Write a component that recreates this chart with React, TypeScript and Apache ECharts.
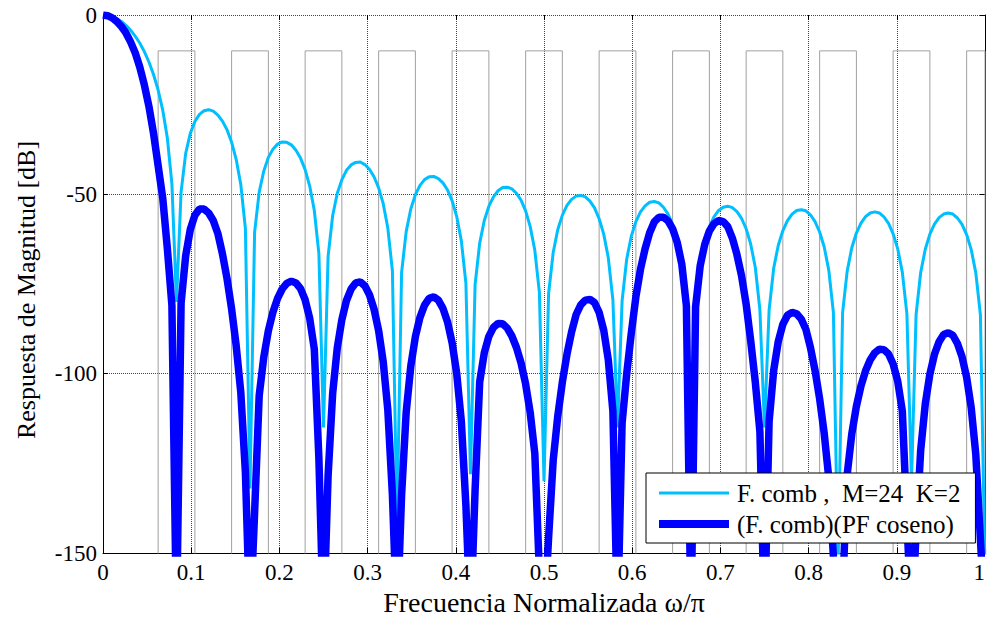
import React, { useEffect, useRef } from "react";
import * as echarts from "echarts";

// Frequency grid: samples over omega/pi in [0, 1]
const SAMPLES = 192;

// F. comb, M=24 K=2  (dB), one value per frequency sample
const combDb = [
  0, -0.1, -0.5, -1.0, -1.8, -2.9, -4.2, -5.9, -7.8, -10.2, -13.1, -16.6, -20.9, -26.5, -34.2, -47.1,
  -80,
  -49.3, -38.6, -33.0, -29.7, -27.7, -26.7, -26.4, -26.8, -27.9, -29.6, -32.0, -35.5, -40.3, -47.3, -59.6,
  -132,
  -60.6, -49.4, -43.5, -39.7, -37.4, -36.0, -35.4, -35.5, -36.2, -37.7, -39.9, -43.1, -47.7, -54.5, -66.6,
  -115,
  -67.3, -55.9, -49.7, -45.9, -43.3, -41.8, -41.1, -41.0, -41.7, -43.0, -45.1, -48.2, -52.6, -59.4, -71.3,
  -142,
  -71.8, -60.4, -54.1, -50.1, -47.5, -45.9, -45.1, -45.0, -45.6, -46.8, -48.8, -51.8, -56.2, -62.9, -74.8,
  -128,
  -75.2, -63.6, -57.3, -53.3, -50.7, -49.0, -48.1, -48.0, -48.5, -49.7, -51.6, -54.6, -59.0, -65.6, -77.4,
  -130,
  -77.7, -66.2, -59.8, -55.8, -53.1, -51.4, -50.5, -50.3, -50.7, -51.9, -53.8, -56.8, -61.1, -67.7, -79.5,
  -115,
  -79.7, -68.1, -61.7, -57.6, -54.9, -53.2, -52.2, -52.0, -52.4, -53.6, -55.5, -58.4, -62.7, -69.2, -81.0,
  -120,
  -81.2, -69.6, -63.2, -59.0, -56.3, -54.5, -53.6, -53.3, -53.7, -54.8, -56.7, -59.6, -63.9, -70.4, -82.2,
  -115,
  -82.3, -70.6, -64.2, -60.1, -57.3, -55.5, -54.5, -54.3, -54.6, -55.7, -57.6, -60.5, -64.7, -71.2, -83.0,
  -155,
  -83.0, -71.4, -64.9, -60.8, -58.0, -56.2, -55.2, -54.9, -55.2, -56.3, -58.1, -61.0, -65.2, -71.7, -83.4,
  -130,
  -83.5, -71.8, -65.3, -61.1, -58.3, -56.5, -55.5, -55.2, -55.5, -56.6, -58.4, -61.2, -65.4, -71.9, -83.6,
  -155,
];

// (F. comb)(PF coseno)  (dB), one value per frequency sample
const combCosDb = [
  0, -0.2, -0.8, -1.8, -3.2, -5.0, -7.5, -10.5, -14.5, -19.5, -25.5, -33, -42, -51, -65, -81,
  -170,
  -80.3, -67.1, -59.8, -55.8, -54.1, -54.1, -55.2, -57.3, -60.9, -66.6, -73.5, -82.0, -92.3, -105.3, -127.6,
  -170,
  -138.8, -106.1, -95.4, -88.0, -82.8, -79.0, -76.4, -74.8, -74.2, -74.7, -76.3, -79.4, -84.6, -93.2, -123.8,
  -170,
  -128.4, -105.4, -92.8, -84.9, -79.6, -76.4, -74.7, -74.4, -75.5, -78.0, -82.0, -88.0, -96.7, -110.1, -133.8,
  -170,
  -133.8, -110.7, -97.9, -89.7, -84.3, -80.9, -79.0, -78.6, -79.5, -81.8, -85.6, -91.4, -100.0, -113.2, -136.8,
  -170,
  -132.4, -102.3, -94.2, -89.6, -87.1, -86.0, -86.1, -87.3, -89.5, -92.7, -97.0, -102.9, -110.9, -122.3, -155.6,
  -170,
  -145.7, -124.2, -111.8, -102.3, -94.6, -88.4, -83.5, -80.8, -79.5, -79.3, -80.2, -82.9, -87.9, -96.2, -110.5,
  -170,
  -113.7, -100.1, -88.7, -78.6, -70.9, -65.2, -60.7, -57.7, -56.4, -56.4, -57.4, -59.6, -63.4, -69.5, -81.1,
  -170,
  -81.3, -69.9, -63.9, -60.2, -58.2, -57.3, -57.6, -59.0, -62.2, -66.8, -72.7, -80.6, -90.9, -102.4, -116.2,
  -170,
  -113.3, -99.1, -91.0, -86.2, -83.7, -82.9, -83.3, -84.8, -87.6, -92.7, -99.1, -107.0, -116.7, -129.2, -151.0,
  -170,
  -161.2, -128.1, -116.8, -109.1, -103.4, -99.2, -96.2, -94.2, -93.2, -93.3, -94.5, -97.3, -102.1, -110.4, -140.6,
  -170,
  -144.6, -121.3, -108.4, -100.1, -94.6, -91.1, -89.1, -88.6, -89.3, -91.6, -95.3, -101.0, -109.5, -122.6, -146.1,
  -170,
];

// Stop-band mask: level and band edges (omega/pi)
const maskLevelDb = -10;
const maskFloorDb = -200;
const maskBands = [
  [0.0625, 0.1042], [0.1458, 0.1875], [0.2292, 0.2708], [0.3125, 0.3542],
  [0.3958, 0.4375], [0.4792, 0.5208], [0.5625, 0.6042], [0.6458, 0.6875],
  [0.7292, 0.7708], [0.8125, 0.8542], [0.8958, 0.9375], [0.9792, 1.0],
];

const seriesNames = ["F. comb ,  M=24  K=2", "(F. comb)(PF coseno)"];
const xAxisTitle = "Frecuencia Normalizada ω/π";
const yAxisTitle = "Respuesta de Magnitud [dB]";

const FONT = "'Liberation Serif', 'Times New Roman', serif";
const CYAN = "#00bfff";
const BLUE = "#0000ff";

export default function App() {
  const ref = useRef<HTMLDivElement>(null);

  useEffect(() => {
    if (!ref.current) return;
    const chart = echarts.init(ref.current, null, { renderer: "svg" });

    const combData = combDb.map((v, i) => [i / SAMPLES, v]);
    const combCosData = combCosDb.map((v, i) => [i / SAMPLES, v]);
    const maskData: number[][] = [];
    maskBands.forEach(([lo, hi]) => {
      maskData.push([lo, maskFloorDb], [lo, maskLevelDb], [hi, maskLevelDb], [hi, maskFloorDb]);
    });

    const tickStyle = { show: true, inside: true, length: 5, lineStyle: { color: "#000", width: 1 } };

    chart.setOption({
      animation: false,
      backgroundColor: "#fff",
      textStyle: { fontFamily: FONT },
      grid: { left: 103, right: 4, top: 15, bottom: 64, containLabel: false, outerBoundsMode: "none" },
      legend: {
        data: [
          { name: seriesNames[0], icon: "path://M0,0H70V3H0Z", itemStyle: { color: CYAN, borderWidth: 0 } },
          { name: seriesNames[1], icon: "path://M0,0H70V8H0Z", itemStyle: { color: BLUE, borderWidth: 0 } },
        ],
        orient: "vertical",
        left: 646,
        top: 473,
        itemWidth: 70,
        itemHeight: 14,
        itemGap: 5,
        padding: [7, 15, 6, 13],
        backgroundColor: "#fff",
        borderColor: "#000",
        borderWidth: 1,
        borderRadius: 0,
        selectedMode: false,
        lineStyle: { width: 0 },
        itemStyle: { borderWidth: 0 },
        textStyle: { fontFamily: FONT, fontSize: 25, color: "#000", lineHeight: 26, padding: [0, 0, 0, 3] },
      },
      xAxis: [
        {
          type: "value",
          min: 0,
          max: 1,
          interval: 0.1,
          name: xAxisTitle,
          nameLocation: "middle",
          nameGap: 31,
          nameTextStyle: { fontFamily: FONT, fontSize: 28, color: "#000" },
          axisLine: { show: true, onZero: false, lineStyle: { color: "#000", width: 1 } },
          axisTick: tickStyle,
          axisLabel: { fontFamily: FONT, fontSize: 23, color: "#000", margin: 8, alignMaxLabel: "right" },
          splitLine: { show: true, lineStyle: { type: "dotted", color: "#444", width: 1 } },
        },
        {
          type: "value",
          position: "top",
          min: 0,
          max: 1,
          interval: 0.1,
          axisLine: { show: false },
          axisTick: tickStyle,
          axisLabel: { show: false },
          splitLine: { show: false },
        },
      ],
      yAxis: [
        {
          type: "value",
          min: -150,
          max: 0,
          interval: 50,
          name: yAxisTitle,
          nameLocation: "middle",
          nameGap: 64,
          nameTextStyle: { fontFamily: FONT, fontSize: 26, color: "#000", padding: [0, 12, 0, 0] },
          axisLine: { show: true, onZero: false, lineStyle: { color: "#000", width: 1 } },
          axisTick: tickStyle,
          axisLabel: { fontFamily: FONT, fontSize: 23, color: "#000", margin: 6 },
          splitLine: { show: true, lineStyle: { type: "dotted", color: "#444", width: 1 } },
        },
        {
          type: "value",
          position: "right",
          min: -150,
          max: 0,
          interval: 50,
          axisLine: { show: true, onZero: false, lineStyle: { color: "#000", width: 1 } },
          axisTick: tickStyle,
          axisLabel: { show: false },
          splitLine: { show: false },
        },
      ],
      series: [
        {
          name: "mask",
          type: "line",
          data: maskData,
          showSymbol: false,
          symbol: "none",
          clip: true,
          silent: true,
          lineStyle: { color: "#a0a0a0", width: 1 },
          z: 1,
        },
        {
          name: seriesNames[0],
          type: "line",
          data: combData,
          showSymbol: false,
          symbol: "none",
          clip: true,
          lineStyle: { color: CYAN, width: 3 },
          itemStyle: { color: CYAN },
          z: 2,
        },
        {
          name: seriesNames[1],
          type: "line",
          data: combCosData,
          showSymbol: false,
          symbol: "none",
          clip: true,
          lineStyle: { color: BLUE, width: 7.5 },
          itemStyle: { color: BLUE },
          z: 3,
        },
      ],
    });

    return () => {
      chart.dispose();
    };
  }, []);

  return (
    <div
      ref={ref}
      style={{ position: "fixed", left: 0, top: 0, width: 989, height: 617, background: "#fff" }}
    />
  );
}
